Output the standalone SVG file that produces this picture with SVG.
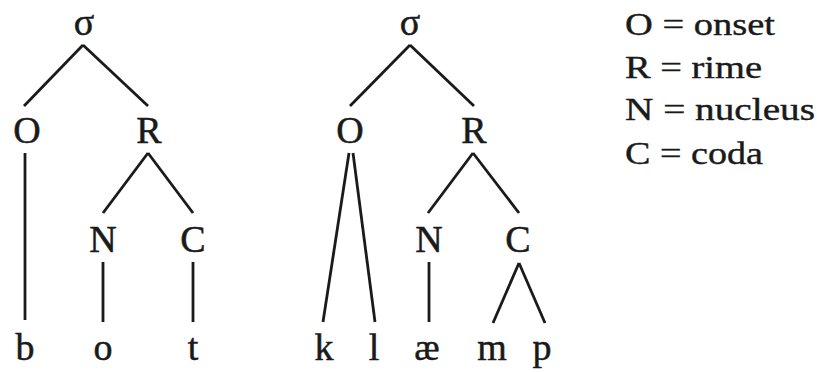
<svg xmlns="http://www.w3.org/2000/svg" width="817" height="372" viewBox="0 0 817 372">
<style>
  .t { font-family: "Liberation Serif", "DejaVu Serif", serif; font-size: 38px; fill: #1a1a1a; stroke: #1a1a1a; stroke-width: 0.5; text-anchor: middle; }
  .leg { font-family: "Liberation Serif", "DejaVu Serif", serif; font-size: 32px; fill: #1a1a1a; stroke: #1a1a1a; stroke-width: 0.4; }
  .e { stroke: #1a1a1a; stroke-width: 2.8; stroke-linecap: butt; fill: none; }
</style>
<rect width="817" height="372" fill="#ffffff"/>
<g id="connectors">
  <line class="e" x1="83" y1="45" x2="24" y2="106"/>
  <line class="e" x1="83" y1="45" x2="148" y2="106"/>
  <line class="e" x1="25" y1="153" x2="25" y2="320"/>
  <line class="e" x1="148" y1="153" x2="103" y2="213"/>
  <line class="e" x1="148" y1="153" x2="193" y2="213"/>
  <line class="e" x1="103" y1="262" x2="103" y2="322"/>
  <line class="e" x1="193" y1="262" x2="193" y2="322"/>
  <line class="e" x1="410" y1="45" x2="350" y2="106"/>
  <line class="e" x1="410" y1="45" x2="474" y2="106"/>
  <line class="e" x1="349" y1="153" x2="323" y2="322"/>
  <line class="e" x1="353" y1="153" x2="375" y2="322"/>
  <line class="e" x1="473" y1="153" x2="428" y2="213"/>
  <line class="e" x1="473" y1="153" x2="519" y2="213"/>
  <line class="e" x1="429" y1="262" x2="429" y2="322"/>
  <line class="e" x1="519" y1="263" x2="493" y2="323"/>
  <line class="e" x1="519" y1="263" x2="545" y2="323"/>
</g>
<g id="tree1">
  <g id="t1-sigma"><text class="t" x="84" y="35">σ</text></g>
  <g id="t1-O"><text class="t" x="27" y="143">O</text></g>
  <g id="t1-R"><text class="t" x="149" y="143">R</text></g>
  <g id="t1-N"><text class="t" x="103" y="252">N</text></g>
  <g id="t1-C"><text class="t" x="193" y="252">C</text></g>
  <g id="t1-b"><text class="t" x="25" y="360">b</text></g>
  <g id="t1-o"><text class="t" x="103" y="360">o</text></g>
  <g id="t1-t"><text class="t" x="193" y="360">t</text></g>
</g>
<g id="tree2">
  <g id="t2-sigma"><text class="t" x="410" y="35">σ</text></g>
  <g id="t2-O"><text class="t" x="350" y="143">O</text></g>
  <g id="t2-R"><text class="t" x="474" y="143">R</text></g>
  <g id="t2-N"><text class="t" x="429" y="252">N</text></g>
  <g id="t2-C"><text class="t" x="518" y="252">C</text></g>
  <g id="t2-k"><text class="t" x="324" y="360">k</text></g>
  <g id="t2-l"><text class="t" x="374" y="360">l</text></g>
  <g id="t2-ae"><text class="t" x="427" y="360">æ</text></g>
  <g id="t2-m"><text class="t" x="492" y="360">m</text></g>
  <g id="t2-p"><text class="t" x="542" y="360">p</text></g>
</g>
<g id="legend">
  <text class="leg" x="625" y="35" textLength="150" lengthAdjust="spacingAndGlyphs">O = onset</text>
  <text class="leg" x="625" y="78" textLength="137" lengthAdjust="spacingAndGlyphs">R = rime</text>
  <text class="leg" x="625" y="120" textLength="190" lengthAdjust="spacingAndGlyphs">N = nucleus</text>
  <text class="leg" x="625" y="164" textLength="138" lengthAdjust="spacingAndGlyphs">C = coda</text>
</g>
</svg>
